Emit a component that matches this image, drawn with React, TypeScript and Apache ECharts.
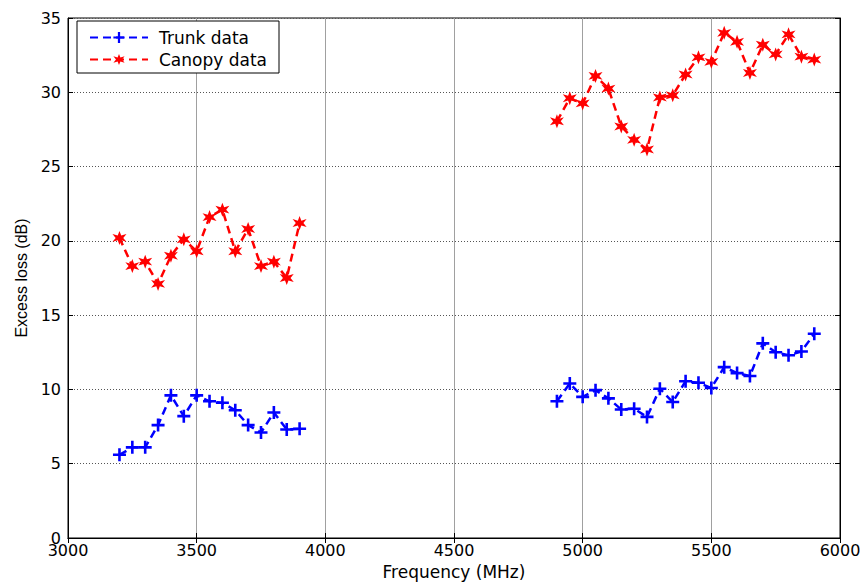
import React, { useEffect, useRef } from "react";
import * as echarts from "echarts";

const trunkFreq1 = [3200, 3250, 3300, 3350, 3400, 3450, 3500, 3550, 3600, 3650, 3700, 3750, 3800, 3850, 3900];
const trunkVals1 = [5.6, 6.1, 6.1, 7.6, 9.6, 8.2, 9.6, 9.2, 9.1, 8.6, 7.6, 7.1, 8.45, 7.3, 7.35];
const canopyVals1 = [20.2, 18.3, 18.6, 17.1, 19.0, 20.1, 19.3, 21.6, 22.1, 19.3, 20.8, 18.3, 18.6, 17.5, 21.2];

const freq2 = [4900, 4950, 5000, 5050, 5100, 5150, 5200, 5250, 5300, 5350, 5400, 5450, 5500, 5550, 5600, 5650, 5700, 5750, 5800, 5850, 5900];
const trunkVals2 = [9.2, 10.4, 9.5, 9.95, 9.4, 8.65, 8.7, 8.15, 10.05, 9.15, 10.55, 10.45, 10.1, 11.5, 11.1, 10.9, 13.1, 12.5, 12.3, 12.55, 13.75];
const canopyVals2 = [28.05, 29.6, 29.25, 31.1, 30.25, 27.7, 26.8, 26.15, 29.65, 29.8, 31.2, 32.35, 32.05, 34.0, 33.4, 31.3, 33.2, 32.55, 33.9, 32.4, 32.2];

const PLUS = "path://M4,0h2v4h4v2h-4v4h-2v-4h-4v-2h4z";
const STAR = "path://M5,0L6.2,3.3L9.8,2.2L7.6,5L9.8,7.8L6.2,6.7L5,10L3.8,6.7L0.2,7.8L2.4,5L0.2,2.2L3.8,3.3Z";

function pairs(xs: number[], ys: number[]) {
  return xs.map((x, i) => [x, ys[i]]);
}

export default function App() {
  const ref = useRef<HTMLDivElement>(null);
  useEffect(() => {
    if (!ref.current) return;
    const chart = echarts.init(ref.current, undefined, { renderer: "svg" });
    const font = "DejaVu Sans, sans-serif";
    const font2 = "Liberation Sans, Arial, sans-serif";
    const trunkStyle = {
      type: "line" as const,
      name: "Trunk data",
      symbol: PLUS,
      symbolSize: 13,
      itemStyle: { color: "#0000ff" },
      lineStyle: { color: "#0000ff", width: 2.5, type: [8, 5] as any },
    };
    const canopyStyle = {
      type: "line" as const,
      name: "Canopy data",
      symbol: STAR,
      symbolSize: 14,
      itemStyle: { color: "#ff0000" },
      lineStyle: { color: "#ff0000", width: 2.5, type: [8, 5] as any },
    };
    chart.setOption({
      animation: false,
      backgroundColor: "#ffffff",
      textStyle: { fontFamily: font, color: "#000" },
      grid: {
        left: 68, right: 23, top: 18, bottom: 46,
        outerBoundsMode: "none", containLabel: false,
        show: true, borderColor: "#000", borderWidth: 1,
      },
      legend: {
        orient: "vertical",
        left: 77,
        top: 21,
        backgroundColor: "#fff",
        borderColor: "#000",
        borderWidth: 1,
        padding: [8, 12, 5, 12],
        itemWidth: 58,
        itemHeight: 14,
        itemGap: 5,
        textStyle: { fontFamily: font, fontSize: 17, color: "#000", padding: [0, 0, 0, 6] },
        data: ["Trunk data", "Canopy data"],
      },
      xAxis: [
        {
          type: "value",
          min: 3000,
          max: 6000,
          interval: 500,
          name: "Frequency (MHz)",
          nameLocation: "middle",
          nameGap: 25,
          nameTextStyle: { fontFamily: font, fontSize: 17, color: "#000" },
          axisLine: { show: true, lineStyle: { color: "#000" } },
          axisTick: { inside: true, length: 5, lineStyle: { color: "#000" } },
          axisLabel: { fontFamily: font, fontSize: 16, color: "#000", margin: 4, formatter: (v: number) => String(v) },
          splitLine: { show: true, lineStyle: { color: "#a0a0a0", width: 1 } },
        },
        {
          type: "value",
          position: "top",
          min: 3000,
          max: 6000,
          interval: 500,
          axisLine: { show: true, lineStyle: { color: "#000" } },
          axisTick: { inside: true, length: 5, lineStyle: { color: "#000" } },
          axisLabel: { show: false },
          splitLine: { show: false },
        },
      ],
      yAxis: [
        {
          type: "value",
          min: 0,
          max: 35,
          interval: 5,
          name: "Excess loss (dB)",
          nameLocation: "middle",
          nameGap: 38,
          nameTextStyle: { fontFamily: font2, fontSize: 16, color: "#000" },
          axisLine: { show: true, lineStyle: { color: "#000" } },
          axisTick: { inside: true, length: 5, lineStyle: { color: "#000" } },
          axisLabel: { fontFamily: font, fontSize: 16, color: "#000", margin: 7 },
          splitLine: { show: true, lineStyle: { color: "#555", width: 1, type: [1, 2] } },
        },
        {
          type: "value",
          position: "right",
          min: 0,
          max: 35,
          interval: 5,
          axisLine: { show: true, lineStyle: { color: "#000" } },
          axisTick: { inside: true, length: 5, lineStyle: { color: "#000" } },
          axisLabel: { show: false },
          splitLine: { show: false },
        },
      ],
      series: [
        { ...trunkStyle, data: pairs(trunkFreq1, trunkVals1) },
        { ...trunkStyle, data: pairs(freq2, trunkVals2) },
        { ...canopyStyle, data: pairs(trunkFreq1, canopyVals1) },
        { ...canopyStyle, data: pairs(freq2, canopyVals2) },
      ],
    });
    return () => chart.dispose();
  }, []);
  return <div ref={ref} style={{ width: 863, height: 584, position: "absolute", left: 0, top: 0 }} />;
}
